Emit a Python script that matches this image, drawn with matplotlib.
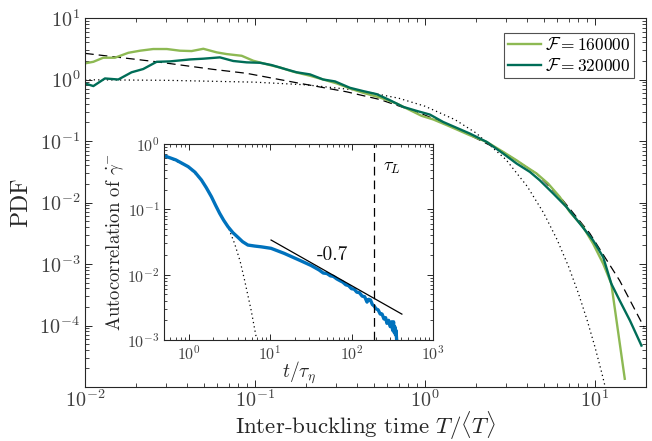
import matplotlib
matplotlib.use("Agg")
import matplotlib.pyplot as plt
import numpy as np
from matplotlib.ticker import LogLocator, NullFormatter

# ---------------- data ----------------
T_160k = [0.0100, 0.0112, 0.0128, 0.0150, 0.0180, 0.0211, 0.0252, 0.0303, 0.0362, 0.0424,
          0.0497, 0.0596, 0.0682, 0.0836, 0.0977, 0.122, 0.140, 0.168, 0.211, 0.252,
          0.303, 0.362, 0.434, 0.543, 0.682, 0.817, 0.955, 1.12, 1.34, 1.84,
          2.31, 2.89, 3.46, 3.96, 4.54, 5.31, 6.22, 7.13, 8.53, 9.77,
          11.2, 12.5, 15.0]
pdf_160k = [1.83, 1.94, 2.26, 2.26, 2.72, 2.94, 3.13, 3.13, 2.94, 2.90,
            3.16, 2.76, 2.59, 2.43, 2.02, 1.72, 1.57, 1.34, 1.15, 1.00,
            0.863, 0.716, 0.607, 0.511, 0.407, 0.318, 0.257, 0.224, 0.182, 0.124,
            0.0966, 0.0664, 0.0486, 0.0378, 0.0296, 0.0203, 0.0123, 0.0070, 0.0040, 0.00214,
            0.00101, 0.000478, 1.36e-5]

T_320k = [0.0100, 0.0112, 0.0131, 0.0157, 0.0188, 0.0220, 0.0264, 0.0316, 0.0415, 0.0497,
          0.0622, 0.0745, 0.0893, 0.107, 0.125, 0.153, 0.176, 0.211, 0.252, 0.296,
          0.362, 0.434, 0.520, 0.622, 0.745, 0.893, 1.07, 1.28, 1.84, 2.31,
          2.89, 3.46, 4.15, 4.74, 5.69, 6.81, 8.17, 9.77, 11.2, 12.5,
          14.0, 16.1, 18.8]
pdf_320k = [0.863, 0.782, 1.04, 1.00, 1.31, 1.48, 1.94, 1.97, 2.12, 2.18,
            2.29, 2.00, 1.90, 1.87, 1.72, 1.46, 1.31, 1.21, 1.00, 0.931,
            0.733, 0.647, 0.578, 0.461, 0.359, 0.309, 0.269, 0.204, 0.132, 0.0966,
            0.0625, 0.0431, 0.0314, 0.0230, 0.0140, 0.00845, 0.00453, 0.00242, 0.00129, 0.000478,
            0.000255, 0.000120, 4.72e-5]

T_dashed = [0.010, 0.0264, 0.0569, 0.0893, 0.176, 0.346, 0.543, 0.935, 1.47, 2.89,
            4.54, 6.46, 9.33, 14.0, 19.5]
pdf_dashed = [2.66, 1.94, 1.46, 1.26, 0.885, 0.631, 0.473, 0.284, 0.170, 0.0664,
              0.0296, 0.0110, 0.00316, 0.000537, 9.33e-5]

T_dotted = [0.01, 0.03, 0.1, 0.2, 0.4, 0.7, 1.0, 1.5, 2.0, 3.0,
            4.0, 5.0, 6.0, 7.0, 8.0, 9.0, 10.0, 11.0, 11.5]
pdf_dotted = [0.990, 0.970, 0.905, 0.819, 0.670, 0.497, 0.368, 0.223, 0.135, 0.0498,
              0.0183, 0.00674, 0.00248, 9.12e-4, 3.35e-4, 1.23e-4, 4.54e-5, 1.67e-5, 1.01e-5]

# inset: autocorrelation of gamma-dot
t_ac = [0.514, 0.70, 0.99, 1.20, 1.44, 1.65, 1.91, 2.15, 2.41, 2.70,
        3.05, 3.50, 4.04, 4.60, 5.35, 6.50, 7.76, 10.3, 14.9, 23.9,
        32.0, 40, 45, 50, 55, 60, 66, 72, 78, 85,
        92, 100, 108, 116, 125, 135, 145, 155, 162, 171,
        180, 190, 200, 212, 225, 237, 250, 262, 272, 285,
        299, 310, 320, 328, 334, 340, 346, 352, 358, 365]
ac = [0.655, 0.57, 0.45, 0.37, 0.281, 0.215, 0.156, 0.115, 0.0869, 0.068,
      0.0542, 0.044, 0.0373, 0.032, 0.0284, 0.0274, 0.0267, 0.0253, 0.0212, 0.0163,
      0.0138, 0.0118, 0.0106, 0.0104, 0.0096, 0.0094, 0.0086, 0.0081, 0.0077, 0.0070,
      0.0068, 0.0061, 0.0060, 0.0054, 0.0053, 0.0047, 0.0046, 0.0038, 0.0042, 0.0041,
      0.0035, 0.0033, 0.0030, 0.0029, 0.0025, 0.0025, 0.0021, 0.0022, 0.0018, 0.0020,
      0.0016, 0.0019, 0.0014, 0.0019, 0.0013, 0.0016, 0.0012, 0.0014, 0.0010, 0.00095]
t_ac_fit = [0.514, 0.99, 1.44, 1.91, 2.41, 3.05, 3.67, 4.30, 4.87, 5.86, 6.75]
ac_fit = [0.655, 0.45, 0.281, 0.156, 0.0869, 0.0542, 0.0301, 0.0160, 0.00826, 0.00287, 0.00112]
t_slope = [10.3, 415]
ac_slope = [0.0339, 0.00249]
slope_label = "-0.7"
tau_L = 190

labels = [r"$\mathcal{F} = 160000$", r"$\mathcal{F} = 320000$"]

# ---------------- style ----------------
plt.rcParams["mathtext.fontset"] = "cm"
plt.rcParams["font.family"] = ["cmr10", "DejaVu Serif"]
plt.rcParams["axes.formatter.use_mathtext"] = True
plt.rcParams["axes.unicode_minus"] = False

axc = "#262626"
tkc = "#404040"
c_light = "#8db953"
c_dark = "#006d57"
c_blue = "#0072bd"

fig = plt.figure(figsize=(6.52, 4.41), dpi=100)
ax = fig.add_axes([85/652, (441-387)/441, (646-85)/652, (387-18)/441])

ax.plot(T_dotted, pdf_dotted, ls=(0, (1, 2.5)), color="k", lw=0.9)
ax.plot(T_dashed, pdf_dashed, ls=(0, (7, 4)), color="k", lw=0.9)
ax.plot(T_160k, pdf_160k, color=c_light, lw=1.7, label=labels[0])
ax.plot(T_320k, pdf_320k, color=c_dark, lw=1.7, label=labels[1])

ax.set_xscale("log")
ax.set_yscale("log")
ax.set_xlim(1e-2, 20)
ax.set_ylim(1e-5, 10)
ax.set_xticks([1e-2, 1e-1, 1e0, 1e1])
ax.set_yticks([1e-4, 1e-3, 1e-2, 1e-1, 1e0, 1e1])
ax.xaxis.set_minor_locator(LogLocator(base=10, subs=np.arange(2, 10), numticks=20))
ax.yaxis.set_minor_locator(LogLocator(base=10, subs=np.arange(2, 10), numticks=20))
ax.xaxis.set_minor_formatter(NullFormatter())
ax.yaxis.set_minor_formatter(NullFormatter())
ax.tick_params(which="both", direction="in", top=True, right=True, colors=axc,
               labelsize=14.5, labelcolor=tkc)
ax.tick_params(axis="x", pad=2)
ax.tick_params(which="major", length=5, width=0.7)
ax.tick_params(which="minor", length=2.8, width=0.6)
for s in ax.spines.values():
    s.set_color(axc)
    s.set_linewidth(0.8)
ax.set_xlabel(r"Inter-buckling time $T/\langle T\rangle$", fontsize=16.5, color=axc, labelpad=-1)
ax.set_ylabel("PDF", fontsize=17, color=axc, labelpad=5)

leg = ax.legend(loc="upper right", fontsize=12.5, frameon=True, fancybox=False,
                edgecolor=axc, handlelength=1.9, handletextpad=0.25,
                borderpad=0.2, labelspacing=0.22, borderaxespad=0,
                bbox_to_anchor=(634/652, (441-33)/441), bbox_transform=fig.transFigure)
leg.get_frame().set_linewidth(0.8)

# ---------------- inset ----------------
ins = fig.add_axes([164/652, (441-340)/441, (433-164)/652, (340-144)/441])
ins.plot(t_ac_fit, ac_fit, ls=(0, (1, 2.5)), color="k", lw=0.9)
ins.plot(t_ac, ac, color=c_blue, lw=2.4)
ins.plot(t_slope, ac_slope, color="k", lw=0.9)
ins.axvline(tau_L, color="k", ls=(0, (7, 4)), lw=0.9)
ins.text(58, 0.02, slope_label, fontsize=14, ha="center", va="center", color="#111111")
ins.text(316, 0.42, r"$\tau_L$", fontsize=13, ha="center", va="center")

ins.set_xscale("log")
ins.set_yscale("log")
ins.set_xlim(0.5, 1000)
ins.set_ylim(1e-3, 1)
ins.set_xticks([1e0, 1e1, 1e2, 1e3])
ins.set_yticks([1e-3, 1e-2, 1e-1, 1e0])
ins.xaxis.set_minor_locator(LogLocator(base=10, subs=np.arange(2, 10), numticks=20))
ins.yaxis.set_minor_locator(LogLocator(base=10, subs=np.arange(2, 10), numticks=20))
ins.xaxis.set_minor_formatter(NullFormatter())
ins.yaxis.set_minor_formatter(NullFormatter())
ins.tick_params(which="both", direction="in", top=True, right=True, colors=axc,
                labelsize=11.5, labelcolor=tkc, pad=3)
ins.tick_params(which="major", length=4, width=0.7)
ins.tick_params(which="minor", length=2.2, width=0.6)
for s in ins.spines.values():
    s.set_color(axc)
    s.set_linewidth(0.8)
ins.set_xlabel(r"$t/\tau_\eta$", fontsize=14, color=axc, labelpad=-2)
ins.set_ylabel(r"Autocorrelation of $\dot{\gamma}^{-}$", fontsize=13.5, color=axc, labelpad=1)

fig.savefig("out.png", dpi=100)
